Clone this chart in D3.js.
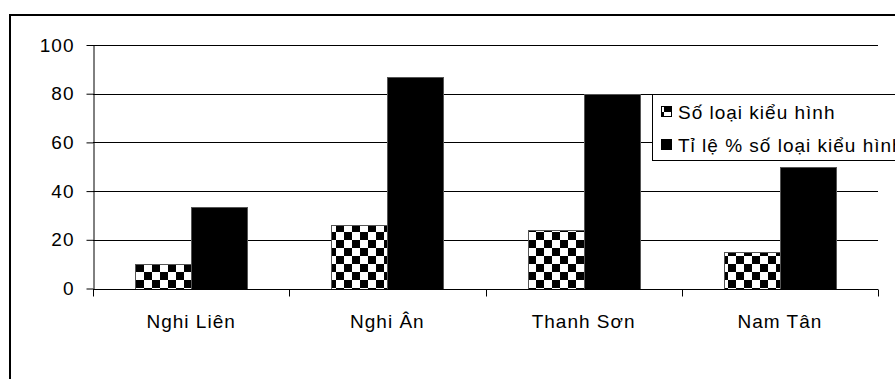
<!DOCTYPE html>
<html>
<head>
<meta charset="utf-8">
<script src="https://cdn.jsdelivr.net/npm/d3@7"></script>
<style>
  html, body { margin: 0; padding: 0; background: #fff; }
  svg { display: block; }
  text { font-family: "Liberation Sans", Arial, sans-serif; fill: #000; letter-spacing: 1px; }
</style>
</head>
<body>
<svg id="chart" width="895" height="379"></svg>
<script>
const categories = ["Nghi Liên", "Nghi Ân", "Thanh Sơn", "Nam Tân"];
const seriesNames = ["Số loại kiểu hình", "Tỉ lệ % số loại kiểu hình"];
const soLoaiKieuHinh = [10, 26, 24, 15];
const tiLePhanTram = [33.3, 86.7, 80, 50];
const yTicks = [0, 20, 40, 60, 80, 100];

const svg = d3.select("#chart");
const FONT = 19;

// pattern
const defs = svg.append("defs");
const pat = defs.append("pattern")
  .attr("id", "checker").attr("patternUnits", "userSpaceOnUse")
  .attr("width", 16).attr("height", 16);
pat.append("rect").attr("width", 16).attr("height", 16).attr("fill", "#fff");
pat.append("rect").attr("x", 0).attr("y", 0).attr("width", 8).attr("height", 8).attr("fill", "#000");
pat.append("rect").attr("x", 8).attr("y", 8).attr("width", 8).attr("height", 8).attr("fill", "#000");

// outer frame
svg.append("rect").attr("x", 10).attr("y", 15).attr("width", 1000).attr("height", 500)
  .attr("fill", "none").attr("stroke", "#000").attr("stroke-width", 2);

const x0 = d3.scaleBand().domain(categories).range([93, 878]).paddingInner(0).paddingOuter(0);
const x1 = d3.scaleBand().domain([0, 1]).range([0, x0.bandwidth()]).paddingInner(0).paddingOuter(0.75);
const y = d3.scaleLinear().domain([0, 100]).range([288.5, 45]);

// gridlines
svg.append("g").selectAll("line").data(yTicks.filter(d => d > 0)).join("line")
  .attr("x1", 93).attr("x2", 878)
  .attr("y1", d => Math.round(y(d)) + 0.5).attr("y2", d => Math.round(y(d)) + 0.5)
  .attr("stroke", "#000").attr("stroke-width", 1);

// bars
const series = [soLoaiKieuHinh, tiLePhanTram];
const fills = ["url(#checker)", "#000"];
series.forEach((vals, si) => {
  svg.append("g").selectAll("rect").data(vals).join("rect")
    .attr("x", (d, i) => Math.round(x0(categories[i]) + x1(si)) + 0.5)
    .attr("y", d => Math.round(y(d)) + 0.5)
    .attr("width", Math.round(x1.bandwidth()))
    .attr("height", d => Math.round(y(0)) - Math.round(y(d)))
    .attr("fill", fills[si])
    .attr("stroke", "#555").attr("stroke-width", 1);
});

// y axis
const yAxis = d3.axisLeft(y).tickValues(yTicks).tickSize(7).tickPadding(12).tickSizeOuter(0);
const gy = svg.append("g").attr("transform", "translate(93.5,0)").call(yAxis);
gy.selectAll("text").style("font-size", FONT + "px").style("font-family", "Liberation Sans, Arial, sans-serif");
gy.selectAll("line").attr("stroke", "#000");
gy.select(".domain").attr("stroke", "#000");

// x axis
const gx = svg.append("g").attr("transform", "translate(0," + (Math.round(y(0)) + 0.5) + ")");
gx.append("line").attr("x1", 93).attr("x2", 878).attr("stroke", "#000");
const bounds = categories.map(c => x0(c)).concat([x0.range()[1]]);
gx.selectAll("line.tick").data(bounds).join("line").attr("class", "tick")
  .attr("x1", d => Math.round(d) + 0.5).attr("x2", d => Math.round(d) + 0.5)
  .attr("y1", 0).attr("y2", 7).attr("stroke", "#000");
gx.selectAll("text").data(categories).join("text")
  .attr("x", d => x0(d) + x0.bandwidth() / 2)
  .attr("y", 38)
  .attr("text-anchor", "middle")
  .style("font-size", FONT + "px")
  .text(d => d);

// legend
const lg = svg.append("g");
lg.append("rect").attr("x", 652.5).attr("y", 94.5).attr("width", 400).attr("height", 66)
  .attr("fill", "#fff").attr("stroke", "#000");
const rowsY = [112, 145];
seriesNames.forEach((n, i) => {
  lg.append("rect").attr("x", 661.5).attr("y", rowsY[i] - 5.5).attr("width", 10).attr("height", 10)
    .attr("fill", i === 0 ? "url(#checker)" : "#000").attr("stroke", "#000");
  lg.append("text").attr("x", 678).attr("y", rowsY[i]).attr("dy", "0.35em")
    .style("font-size", FONT + "px").text(n);
});
</script>
</body>
</html>
